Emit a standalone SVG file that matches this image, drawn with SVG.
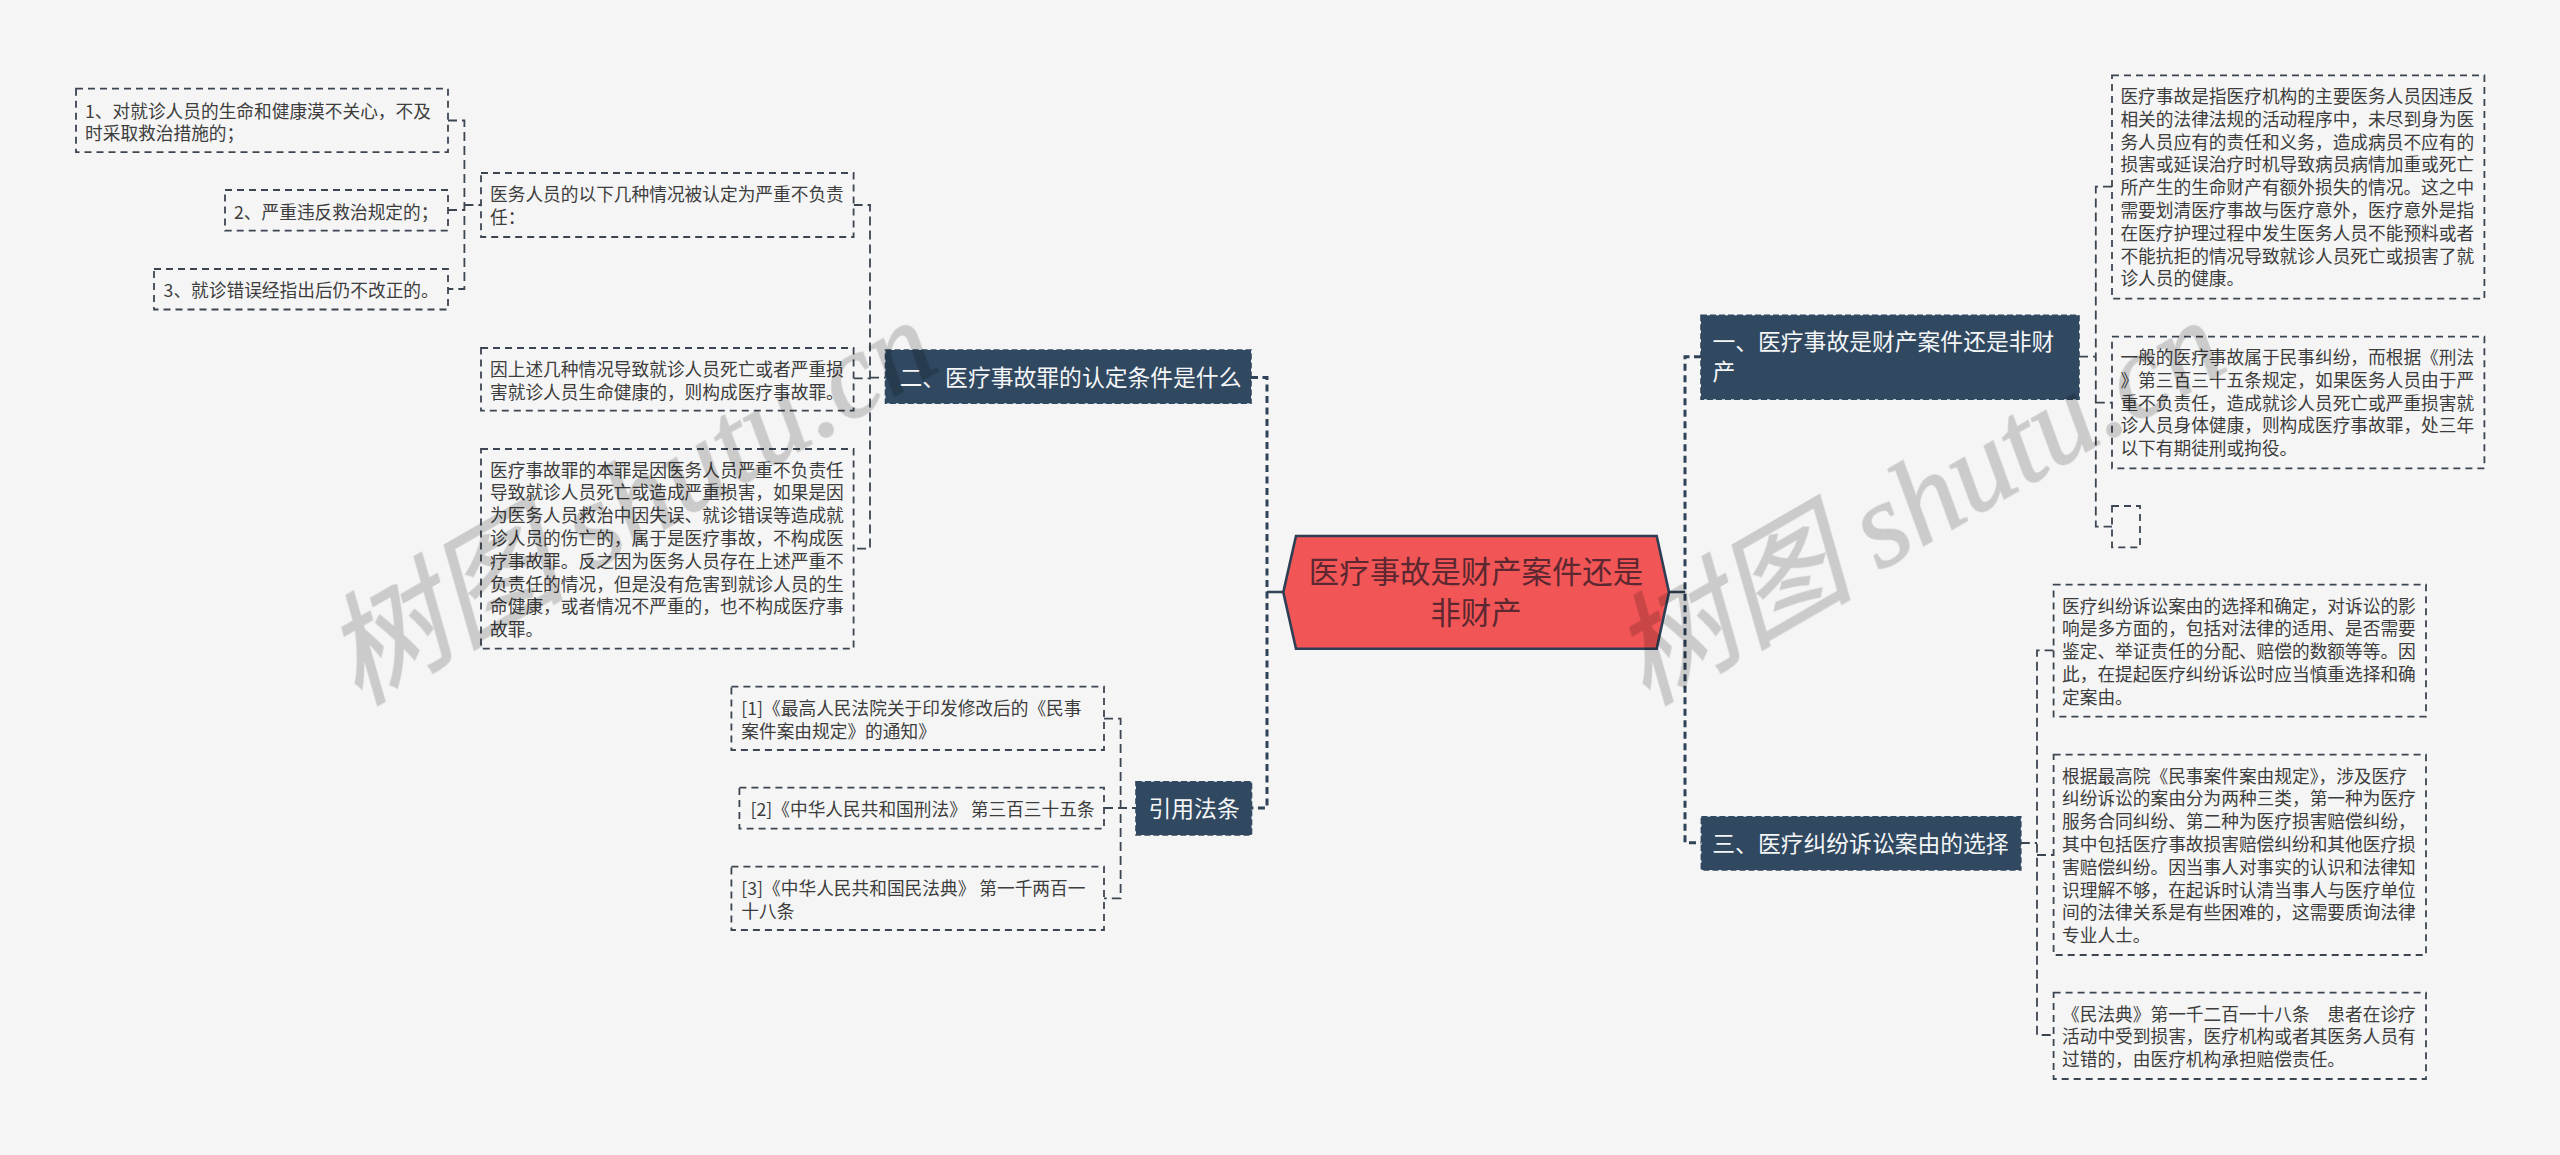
<svg xmlns="http://www.w3.org/2000/svg" width="2560" height="1155" viewBox="0 0 2560 1155">
<style>
text{font-family:"Noto Sans CJK SC","Noto Sans",sans-serif}
.bg{fill:#f5f5f5}
.box{fill:#f5f5f5;stroke:#3c4652;stroke-width:1.8;stroke-dasharray:7 5}
.t{font-size:17.7px;fill:#3d3d3d}
.topic{fill:#304860;stroke:#304860;stroke-width:1.6;stroke-dasharray:6 3}
.tt{font-size:22.8px;fill:#f4f6f8}
.root{fill:#f25555;stroke:#2e3f55;stroke-width:2.6}
.rt{font-size:30.4px;fill:#5b2730;text-anchor:middle}
.l1{fill:none;stroke:#2e4258;stroke-width:3;stroke-dasharray:7 4.5}
.l2{fill:none;stroke:#3c4652;stroke-width:1.8;stroke-dasharray:9 5}
.s{fill:none;stroke:#2e4258;stroke-width:2.6}
#watermarks{opacity:.17}
.wm{font-size:121px;fill:#000;stroke:#000;stroke-width:1.6;font-style:italic}
.wm .en{font-family:"Liberation Serif",serif}
</style>
<rect class="bg" width="2560" height="1155"/>
<g id="connectors">
<path class="s" d="M1283 592H1267M1669 592H1685"/>
<path class="l1" d="M1251 377.6H1267V808H1251"/>
<path class="l1" d="M1701 356.7H1685V842.7H1701"/>
<path class="l2" d="M448 120.5H464.4V289H448M448 210H464.4M464.4 205H481"/>
<path class="l2" d="M853.6 205H870V548.7H853.6M853.6 378.4H870M870 377.6H885.5"/>
<path class="l2" d="M1104 718.7H1120.6V898.3H1104M1104 808H1136"/>
<path class="l2" d="M2112 186.7H2095.8V526.7H2112M2095.8 402.7H2112M2079 356.7H2095.8"/>
<path class="l2" d="M2053.6 650.3H2037V1035H2053.6M2037 855H2053.6M2020.8 843H2037"/>
</g>
<g id="root"><polygon class="root" points="1283.3,592.3 1296,536 1656.7,536 1669,592.3 1656.7,648.7 1296,648.7"/>
<text class="rt" x="1476" y="583">医疗事故是财产案件还是</text><text class="rt" x="1476" y="624">非财产</text></g>
<g id="topic-2"><rect class="topic" x="885.5" y="350" width="365.5" height="53.3"/><text class="tt" x="899.5" y="385.5">二、医疗事故罪的认定条件是什么</text></g>
<g id="topic-ref"><rect class="topic" x="1136" y="781.7" width="115.5" height="53.3"/><text class="tt" x="1148.5" y="817">引用法条</text></g>
<g id="topic-1"><rect class="topic" x="1701" y="315.3" width="378" height="84"/><text class="tt" x="1712.4" y="350">一、医疗事故是财产案件还是非财</text><text class="tt" x="1712.4" y="380">产</text></g>
<g id="topic-3"><rect class="topic" x="1701.4" y="816.7" width="319.4" height="53.3"/><text class="tt" x="1712.3" y="851.5">三、医疗纠纷诉讼案由的选择</text></g>
<g id="n1"><rect class="box" x="76" y="88.7" width="372" height="63.5"/><text class="t" x="85" y="117.5">1、对就诊人员的生命和健康漠不关心，不及</text><text class="t" x="85" y="140.2">时采取救治措施的；</text></g>
<g id="n2"><rect class="box" x="225" y="190" width="223" height="40.7"/><text class="t" x="234" y="218.5">2、严重违反救治规定的；</text></g>
<g id="n3"><rect class="box" x="154" y="269" width="294" height="40.5"/><text class="t" x="163.6" y="297">3、就诊错误经指出后仍不改正的。</text></g>
<g id="c1"><rect class="box" x="481" y="173" width="372.6" height="64"/><text class="t" x="490" y="200.5">医务人员的以下几种情况被认定为严重不负责</text><text class="t" x="490" y="223.5">任：</text></g>
<g id="c2"><rect class="box" x="481" y="348" width="372.6" height="62.6"/><text class="t" x="490" y="375.5">因上述几种情况导致就诊人员死亡或者严重损</text><text class="t" x="490" y="398.5">害就诊人员生命健康的，则构成医疗事故罪。</text></g>
<g id="c3"><rect class="box" x="481" y="449" width="372.6" height="199.6"/>
<text class="t" x="490" y="476.5">医疗事故罪的本罪是因医务人员严重不负责任</text>
<text class="t" x="490" y="499.3">导致就诊人员死亡或造成严重损害，如果是因</text>
<text class="t" x="490" y="522.1">为医务人员救治中因失误、就诊错误等造成就</text>
<text class="t" x="490" y="544.9">诊人员的伤亡的，属于是医疗事故，不构成医</text>
<text class="t" x="490" y="567.7">疗事故罪。反之因为医务人员存在上述严重不</text>
<text class="t" x="490" y="590.5">负责任的情况，但是没有危害到就诊人员的生</text>
<text class="t" x="490" y="613.3">命健康，或者情况不严重的，也不构成医疗事</text>
<text class="t" x="490" y="636.1">故罪。</text></g>
<g id="r1"><rect class="box" x="731.4" y="686.7" width="372.6" height="63.3"/><text class="t" x="741.3" y="715">[1]《最高人民法院关于印发修改后的《民事</text><text class="t" x="741.3" y="737.5">案件案由规定》的通知》</text></g>
<g id="r2"><rect class="box" x="739.4" y="787.7" width="364.6" height="41"/><text class="t" x="750.5" y="816">[2]《中华人民共和国刑法》 第三百三十五条</text></g>
<g id="r3"><rect class="box" x="731.4" y="866.7" width="372.6" height="63.3"/><text class="t" x="741.3" y="895">[3]《中华人民共和国民法典》 第一千两百一</text><text class="t" x="741.3" y="917.5">十八条</text></g>
<g id="d1"><rect class="box" x="2112" y="75.3" width="372.4" height="223.4"/>
<text class="t" x="2120.4" y="103">医疗事故是指医疗机构的主要医务人员因违反</text>
<text class="t" x="2120.4" y="125.8">相关的法律法规的活动程序中，未尽到身为医</text>
<text class="t" x="2120.4" y="148.6">务人员应有的责任和义务，造成病员不应有的</text>
<text class="t" x="2120.4" y="171.4">损害或延误治疗时机导致病员病情加重或死亡</text>
<text class="t" x="2120.4" y="194.2">所产生的生命财产有额外损失的情况。这之中</text>
<text class="t" x="2120.4" y="217">需要划清医疗事故与医疗意外，医疗意外是指</text>
<text class="t" x="2120.4" y="239.8">在医疗护理过程中发生医务人员不能预料或者</text>
<text class="t" x="2120.4" y="262.6">不能抗拒的情况导致就诊人员死亡或损害了就</text>
<text class="t" x="2120.4" y="285.4">诊人员的健康。</text></g>
<g id="d2"><rect class="box" x="2112" y="336.7" width="372.4" height="131.6"/>
<text class="t" x="2120.4" y="364">一般的医疗事故属于民事纠纷，而根据《刑法</text>
<text class="t" x="2120.4" y="386.8">》第三百三十五条规定，如果医务人员由于严</text>
<text class="t" x="2120.4" y="409.6">重不负责任，造成就诊人员死亡或严重损害就</text>
<text class="t" x="2120.4" y="432.4">诊人员身体健康，则构成医疗事故罪，处三年</text>
<text class="t" x="2120.4" y="455.2">以下有期徒刑或拘役。</text></g>
<g id="d3"><rect class="box" x="2112" y="506" width="28" height="41.3"/></g>
<g id="e1"><rect class="box" x="2053.6" y="584.7" width="372.4" height="132"/>
<text class="t" x="2062" y="612.5">医疗纠纷诉讼案由的选择和确定，对诉讼的影</text>
<text class="t" x="2062" y="635.3">响是多方面的，包括对法律的适用、是否需要</text>
<text class="t" x="2062" y="658.1">鉴定、举证责任的分配、赔偿的数额等等。因</text>
<text class="t" x="2062" y="680.9">此，在提起医疗纠纷诉讼时应当慎重选择和确</text>
<text class="t" x="2062" y="703.7">定案由。</text></g>
<g id="e2"><rect class="box" x="2053.6" y="754.7" width="372.4" height="200.3"/>
<text class="t" x="2062" y="782.5">根据最高院《民事案件案由规定》，涉及医疗</text>
<text class="t" x="2062" y="805.3">纠纷诉讼的案由分为两种三类，第一种为医疗</text>
<text class="t" x="2062" y="828.1">服务合同纠纷、第二种为医疗损害赔偿纠纷，</text>
<text class="t" x="2062" y="850.9">其中包括医疗事故损害赔偿纠纷和其他医疗损</text>
<text class="t" x="2062" y="873.7">害赔偿纠纷。因当事人对事实的认识和法律知</text>
<text class="t" x="2062" y="896.5">识理解不够，在起诉时认清当事人与医疗单位</text>
<text class="t" x="2062" y="919.3">间的法律关系是有些困难的，这需要质询法律</text>
<text class="t" x="2062" y="942.1">专业人士。</text></g>
<g id="e3"><rect class="box" x="2053.6" y="992.7" width="372.4" height="86.3"/>
<text class="t" x="2062" y="1020.5">《民法典》第一千二百一十八条　患者在诊疗</text>
<text class="t" x="2062" y="1043.3">活动中受到损害，医疗机构或者其医务人员有</text>
<text class="t" x="2062" y="1066.1">过错的，由医疗机构承担赔偿责任。</text></g>
<g id="watermarks">
<text class="wm" transform="translate(358 706) rotate(-30)">树图 <tspan class="en">shutu.cn</tspan></text>
<text class="wm" transform="translate(1646 706) rotate(-30)">树图 <tspan class="en">shutu.cn</tspan></text>
</g>
</svg>
